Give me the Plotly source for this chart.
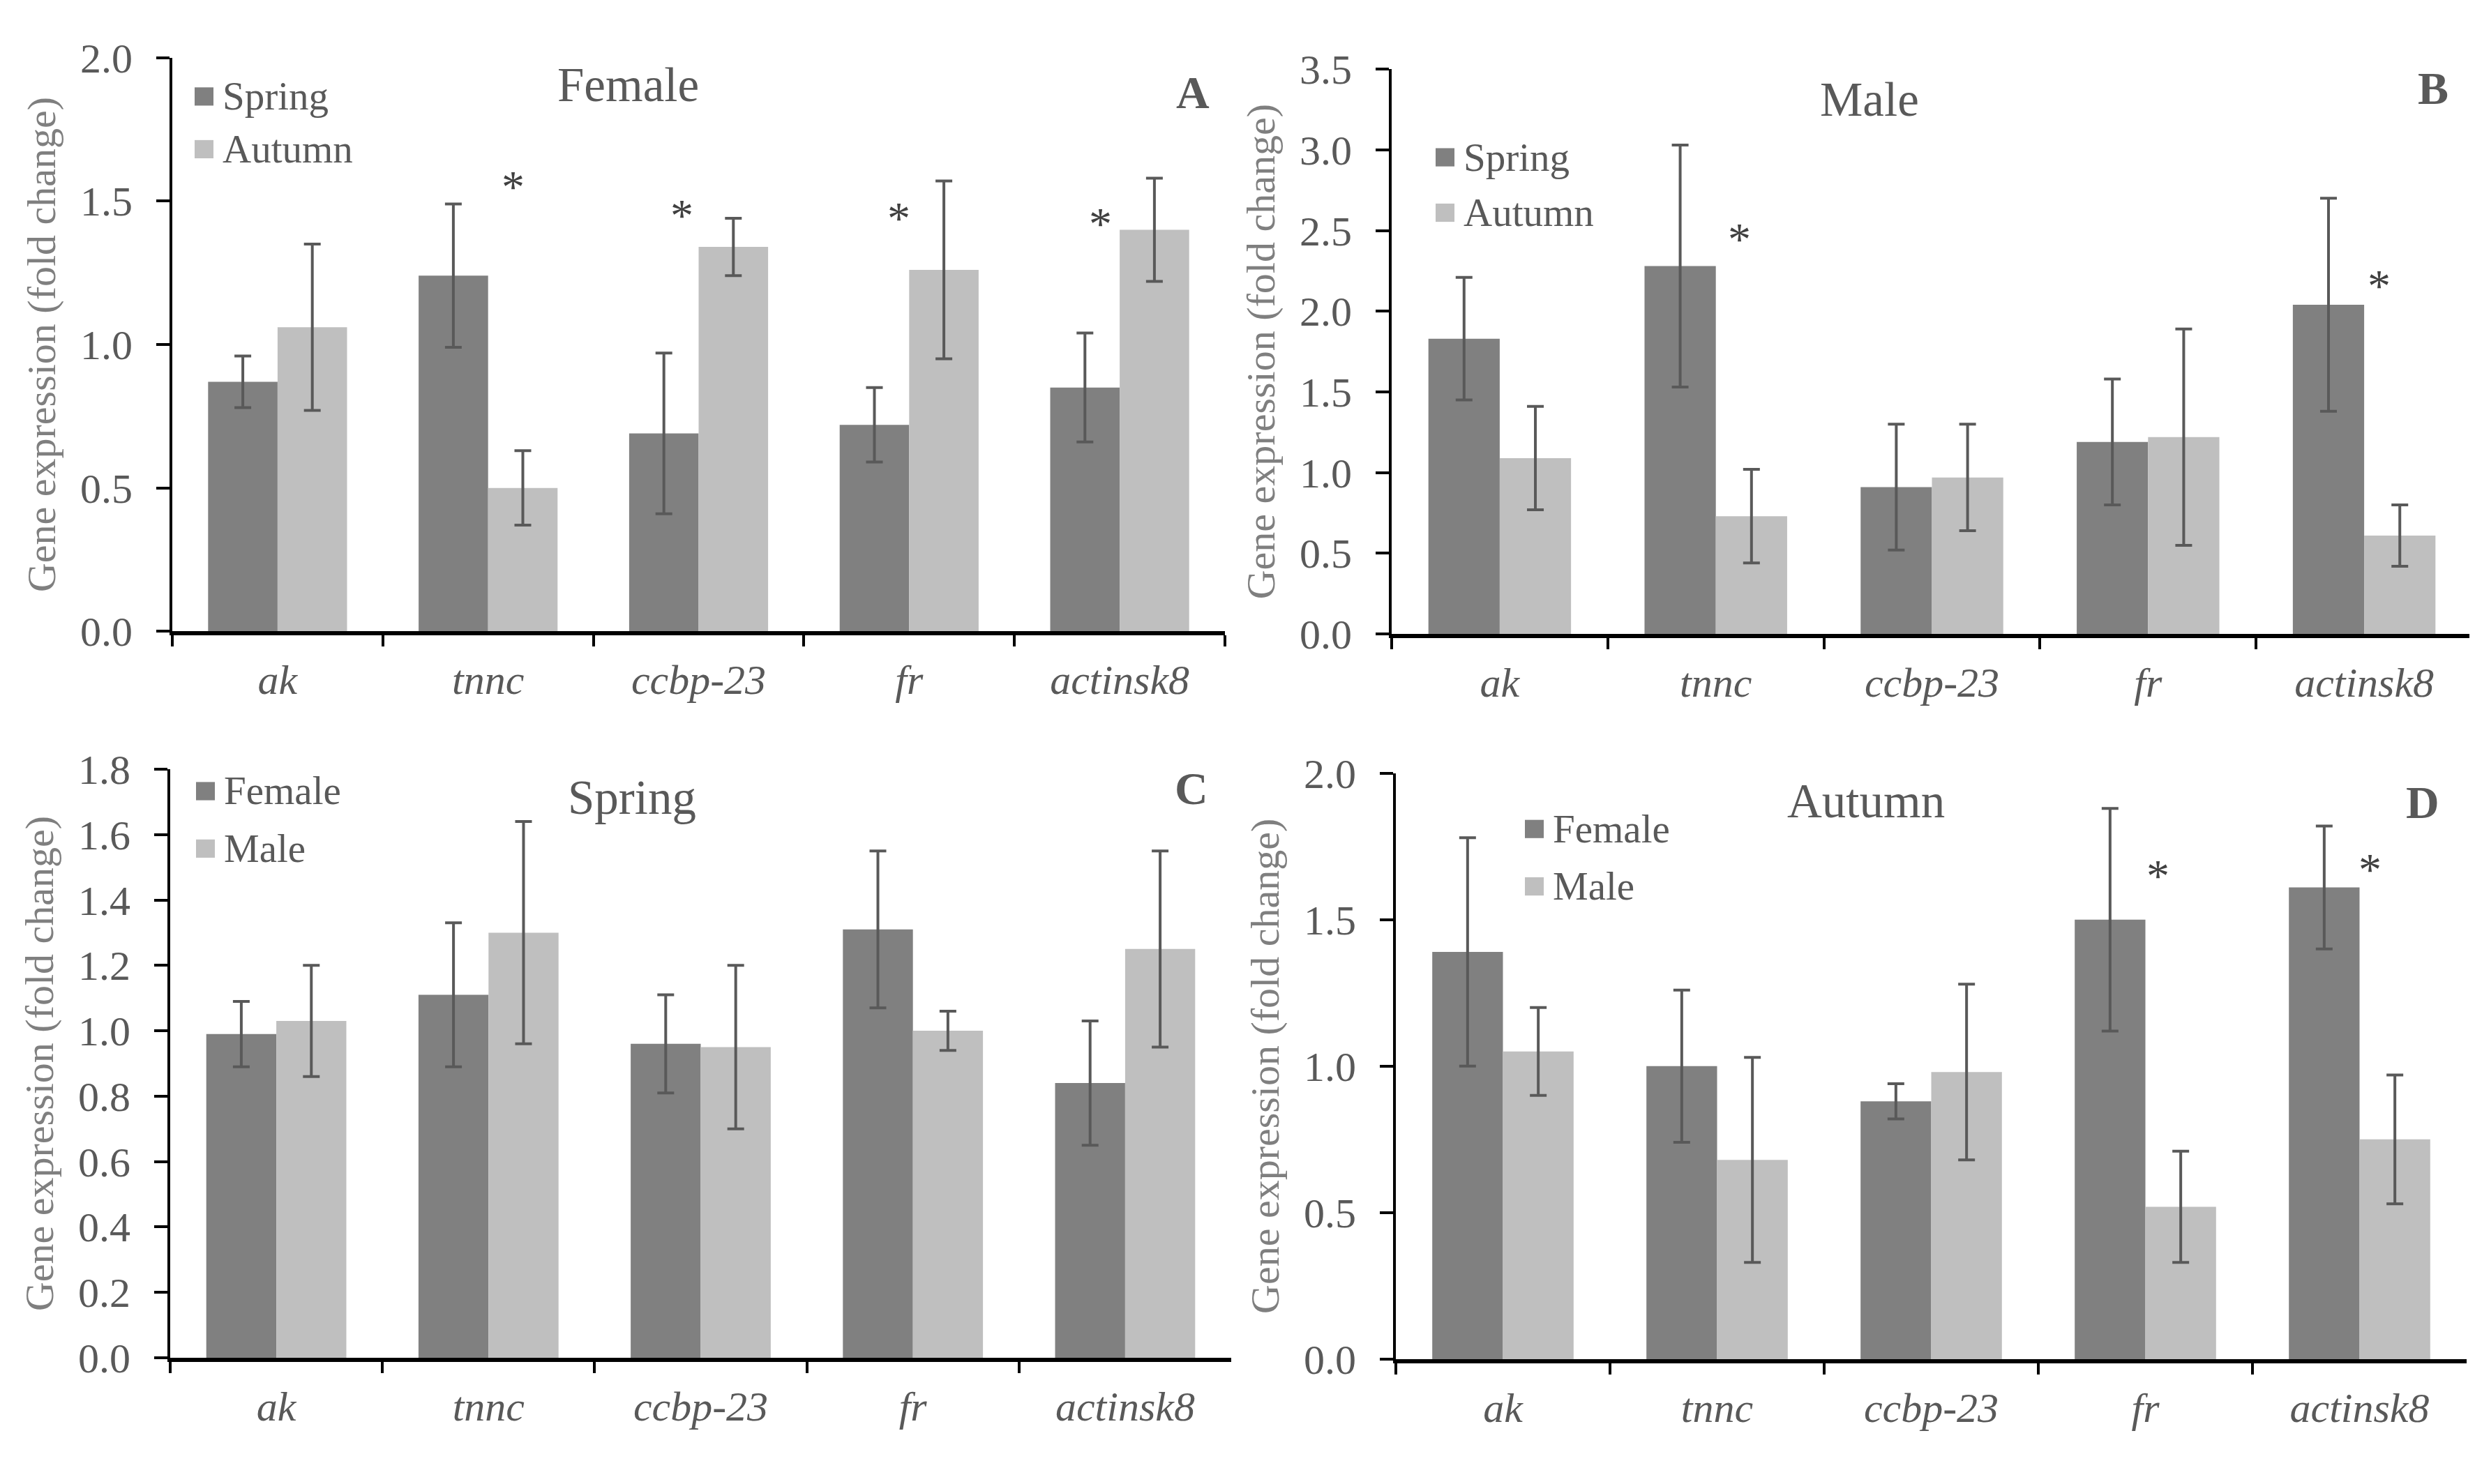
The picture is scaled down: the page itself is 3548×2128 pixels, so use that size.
import plotly.graph_objects as go

W, H = 3548, 2128

genes = ["ak", "tnnc", "ccbp-23", "fr", "actinsk8"]

# A: Female, spring vs autumn
female_spring = [0.87, 1.24, 0.69, 0.72, 0.85]
female_spring_err = [0.09, 0.25, 0.28, 0.13, 0.19]
female_autumn = [1.06, 0.50, 1.34, 1.26, 1.40]
female_autumn_err = [0.29, 0.13, 0.10, 0.31, 0.18]

# B: Male, spring vs autumn
male_spring = [1.83, 2.28, 0.91, 1.19, 2.04]
male_spring_err = [0.38, 0.75, 0.39, 0.39, 0.66]
male_autumn = [1.09, 0.73, 0.97, 1.22, 0.61]
male_autumn_err = [0.32, 0.29, 0.33, 0.67, 0.19]

# C: Spring, female vs male
spring_female = [0.99, 1.11, 0.96, 1.31, 0.84]
spring_female_err = [0.10, 0.22, 0.15, 0.24, 0.19]
spring_male = [1.03, 1.30, 0.95, 1.00, 1.25]
spring_male_err = [0.17, 0.34, 0.25, 0.06, 0.30]

# D: Autumn, female vs male
autumn_female = [1.39, 1.00, 0.88, 1.50, 1.61]
autumn_female_err = [0.39, 0.26, 0.06, 0.38, 0.21]
autumn_male = [1.05, 0.68, 0.98, 0.52, 0.75]
autumn_male_err = [0.15, 0.35, 0.30, 0.19, 0.22]

# significance stars: (gene, height of the star)
sig_a = [("tnnc", 1.58), ("ccbp-23", 1.48), ("fr", 1.47), ("actinsk8", 1.45)]
sig_b = [("tnnc", 2.50), ("actinsk8", 2.21)]
sig_c = []
sig_d = [("fr", 1.68), ("actinsk8", 1.70)]

DARK = "#808080"
LIGHT = "#bfbfbf"
TXT = "#595959"
FONT = "Liberation Serif, Times New Roman, serif"


def px(x):
    return x / W


def py(y):
    return 1 - y / H


panels = [
    dict(title="Female", letter="A", names=["Spring", "Autumn"],
         vals=[female_spring, female_autumn], errs=[female_spring_err, female_autumn_err],
         ymax=2.0, dtick=0.5, sig=sig_a, sig_dx=[0.12, -0.08, -0.05, -0.09],
         dom_x=(239, 1748), dom_y=(893, 44),
         title_pos=(893, 85), letter_pos=(1702, 95), leg=(271, 101, 179)),
    dict(title="Male", letter="B", names=["Spring", "Autumn"],
         vals=[male_spring, male_autumn], errs=[male_spring_err, male_autumn_err],
         ymax=3.5, dtick=0.5, sig=sig_b, sig_dx=[0.11, 0.07],
         dom_x=(1987, 3536), dom_y=(897, 61),
         title_pos=(2672, 106), letter_pos=(3480, 89), leg=(2050, 191, 273)),
    dict(title="Spring", letter="C", names=["Female", "Male"],
         vals=[spring_female, spring_male], errs=[spring_female_err, spring_male_err],
         ymax=1.8, dtick=0.2, sig=sig_c, sig_dx=[],
         dom_x=(236, 1757), dom_y=(1968, 1097),
         title_pos=(898, 1139), letter_pos=(1700, 1125), leg=(273, 1129, 1214)),
    dict(title="Autumn", letter="D", names=["Female", "Male"],
         vals=[autumn_female, autumn_male], errs=[autumn_female_err, autumn_male_err],
         ymax=2.0, dtick=0.5, sig=sig_d, sig_dx=[0.06, 0.05],
         dom_x=(1993, 3528), dom_y=(1970, 1103),
         title_pos=(2667, 1144), letter_pos=(3465, 1146), leg=(2178, 1185, 1270)),
]

fig = go.Figure()
annotations = []
shapes = []
layout = {}

for n, p in enumerate(panels, start=1):
    xa = "x" if n == 1 else f"x{n}"
    ya = "y" if n == 1 else f"y{n}"
    for name, vals, errs, col in zip(p["names"], p["vals"], p["errs"], [DARK, LIGHT]):
        fig.add_trace(go.Bar(
            x=genes, y=vals, name=name, marker=dict(color=col, line=dict(width=0)),
            error_y=dict(type="data", array=errs, visible=True, color=TXT,
                         thickness=4, width=12),
            xaxis=xa, yaxis=ya, showlegend=False,
        ))

    layout["xaxis" if n == 1 else f"xaxis{n}"] = dict(
        domain=[px(p["dom_x"][0]), px(p["dom_x"][1])], anchor=ya,
        type="category", categoryorder="array", categoryarray=genes,
        showline=True, linecolor="black", linewidth=6,
        ticks="outside", tickson="boundaries", ticklen=16, tickwidth=4, tickcolor="black",
        tickfont=dict(family=FONT, size=60, color=TXT, style="italic"),
        ticklabelstandoff=12, showgrid=False, zeroline=False,
    )
    layout["yaxis" if n == 1 else f"yaxis{n}"] = dict(
        domain=[py(p["dom_y"][0]), py(p["dom_y"][1])], anchor=xa,
        range=[0, p["ymax"]], dtick=p["dtick"], tick0=0, tickformat=".1f",
        showline=True, linecolor="black", linewidth=4,
        ticks="outside", ticklen=19, tickwidth=4, tickcolor="black",
        tickfont=dict(family=FONT, size=60, color=TXT),
        ticklabelstandoff=22, showgrid=False, zeroline=False,
        title=dict(text="Gene expression (fold change)", standoff=18,
                   font=dict(family=FONT, size=58, color="#7f7f7f")),
    )

    # panel title and letter
    annotations.append(dict(text=p["title"], x=px(p["title_pos"][0]), y=py(p["title_pos"][1]),
                            xref="paper", yref="paper", showarrow=False,
                            xanchor="center", yanchor="middle",
                            font=dict(family=FONT, size=69, color=TXT)))
    annotations.append(dict(text="<b>" + p["letter"] + "</b>", x=px(p["letter_pos"][0]),
                            y=py(p["letter_pos"][1]), xref="paper", yref="paper",
                            showarrow=False, xanchor="center", yanchor="middle",
                            font=dict(family=FONT, size=66, color=TXT)))

    # legend: swatch + label
    lx, ly1, ly2 = p["leg"]
    for name, col, yy in zip(p["names"], [DARK, LIGHT], [ly1, ly2]):
        shapes.append(dict(type="rect", xref="paper", yref="paper",
                           x0=px(lx), x1=px(lx + 27), y0=py(yy + 14), y1=py(yy - 13),
                           fillcolor=col, line=dict(width=0)))
        annotations.append(dict(text=name, x=px(lx + 38), y=py(yy), xref="paper", yref="paper",
                                showarrow=False, xanchor="left", yanchor="middle",
                                font=dict(family=FONT, size=57, color=TXT)))

    # significance stars
    for (g, h), dx in zip(p["sig"], p["sig_dx"]):
        annotations.append(dict(text="*", x=genes.index(g) + dx, y=h, xref=xa, yref=ya,
                                showarrow=False, xanchor="center", yanchor="middle",
                                yshift=-12, font=dict(family=FONT, size=66, color="#404040")))

fig.update_layout(
    **layout,
    barmode="group", bargap=0.34, bargroupgap=0,
    width=W, height=H, margin=dict(l=0, r=0, t=0, b=0),
    paper_bgcolor="white", plot_bgcolor="white",
    annotations=annotations, shapes=shapes, showlegend=False,
)

fig.write_html("out.html")
